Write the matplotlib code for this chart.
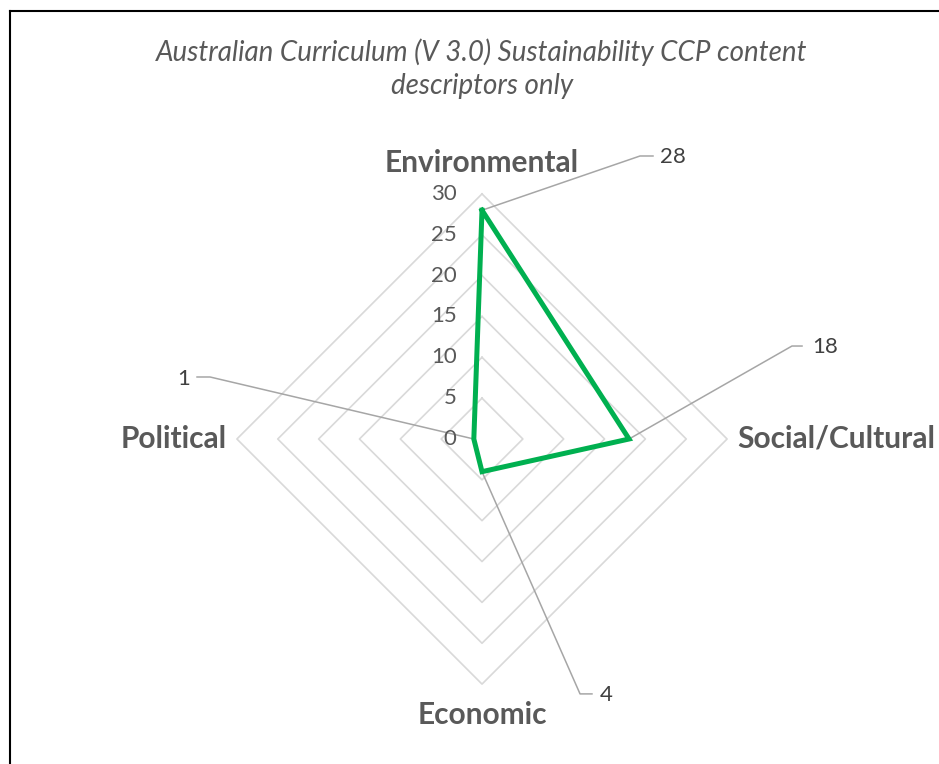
import numpy as np
import matplotlib.pyplot as plt
from matplotlib.lines import Line2D

# Sustainability CCP content descriptors per category
categories = ['Environmental', 'Social/Cultural', 'Economic', 'Political']
counts = [28, 18, 4, 1]
ring_values = [0, 5, 10, 15, 20, 25, 30]
title_lines = ['Australian Curriculum (V 3.0) Sustainability CCP content',
               'descriptors only']

plt.rcParams['font.family'] = ['Lato', 'DejaVu Sans']

grey_text = '#595959'
green = '#00b050'

# spokes clockwise from the top
angles = np.array([0, 90, 180, 270]) * np.pi / 180

def to_xy(r, ang):
    return r * np.sin(ang), r * np.cos(ang)

# axes in value units, 1 unit = 8.17 px
unit = 8.17
cx, cy = 482, 439
W, H = 939, 764
fig = plt.figure(figsize=(W / 100, H / 100), dpi=100)
ax = fig.add_axes([0, 0, 1, 1])
ax.set_xlim(-cx / unit, (W - cx) / unit)
ax.set_ylim(-(H - cy) / unit, cy / unit)
ax.axis('off')

# diamond rings
for rv in ring_values[1:]:
    xs, ys = to_xy(rv, np.append(angles, angles[0]))
    ax.plot(xs, ys, color='#d9d9d9', lw=1.2, zorder=1)

# radial tick labels
for rv in ring_values:
    ax.text(-3.1, rv, str(rv), ha='right', va='center', fontsize=16,
            color=grey_text)

# category labels
label_pos = {
    'Environmental': (0, 33.8, 'center', 'center'),
    'Social/Cultural': (31.2, 0, 'left', 'center'),
    'Economic': (0, -33.8, 'center', 'center'),
    'Political': (-31.3, 0, 'right', 'center'),
}
for cat in categories:
    x, y, ha, va = label_pos[cat]
    ax.text(x, y, cat, ha=ha, va=va, fontsize=21.5, fontweight='bold',
            color=grey_text)

# data series
vals = np.array(counts, dtype=float)
xs, ys = to_xy(np.append(vals, vals[0]), np.append(angles, angles[0]))
ax.plot(xs, ys, color=green, lw=3.6, solid_joinstyle='miter', zorder=3)

# data labels with leader lines: elbow point, end of short segment, text pos
leaders = {
    'Environmental': ((19.34, 34.64), (20.93, 34.64), (21.8, 34.55), 'left'),
    'Social/Cultural': ((37.94, 11.38), (39.17, 11.38), (40.4, 11.2), 'left'),
    'Economic': ((12.0, -31.2), (13.46, -31.2), (14.4, -31.3), 'left'),
    'Political': ((-33.29, 7.59), (-34.88, 7.59), (-35.7, 7.3), 'right'),
}
for cat, val, ang in zip(categories, counts, angles):
    px, py = to_xy(val, ang)
    elbow, end, tpos, ha = leaders[cat]
    ax.plot([px, elbow[0], end[0]], [py, elbow[1], end[1]],
            color='#a6a6a6', lw=1.1, zorder=2)
    ax.text(tpos[0], tpos[1], str(val), ha=ha, va='center', fontsize=16,
            color='#404040')

# title
ax.text(0, (cy - 52) / unit, title_lines[0], ha='center', va='center',
        fontsize=20, style='italic', color=grey_text)
ax.text(0, (cy - 86) / unit, title_lines[1], ha='center', va='center',
        fontsize=20, style='italic', color=grey_text)

# chart frame (left and top edges)
fig.add_artist(Line2D([9.5 / W, 9.5 / W], [0, 1 - 11 / H], color='black',
                      lw=1.5, transform=fig.transFigure))
fig.add_artist(Line2D([9.5 / W, 1], [1 - 11 / H, 1 - 11 / H], color='black',
                      lw=1.5, transform=fig.transFigure))

fig.savefig('out.png', dpi=100)
